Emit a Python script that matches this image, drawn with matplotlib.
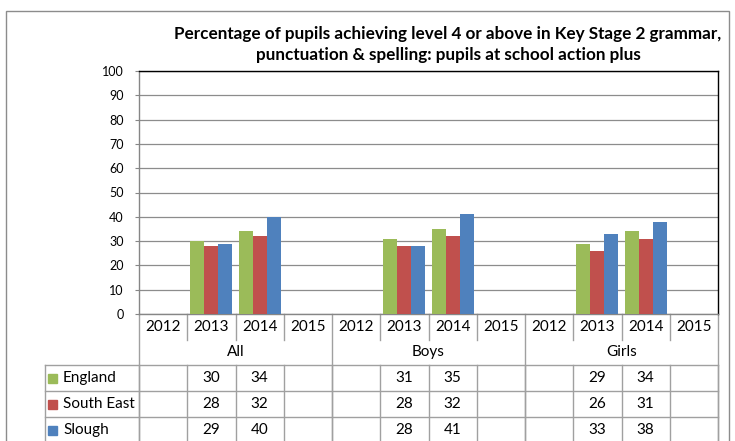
import numpy as np
import matplotlib
matplotlib.use("Agg")
import matplotlib.pyplot as plt
from matplotlib.transforms import blended_transform_factory
from matplotlib.patches import Rectangle

plt.rcParams['font.family'] = ['Lato', 'DejaVu Sans']

# data
groups = ['All', 'Boys', 'Girls']
years = ['2012', '2013', '2014', '2015']
series = ['England', 'South East', 'Slough']
england = [np.nan, 30, 34, np.nan, np.nan, 31, 35, np.nan, np.nan, 29, 34, np.nan]
south_east = [np.nan, 28, 32, np.nan, np.nan, 28, 32, np.nan, np.nan, 26, 31, np.nan]
slough = [np.nan, 29, 40, np.nan, np.nan, 28, 41, np.nan, np.nan, 33, 38, np.nan]
colors = ['#9BBB59', '#C0504D', '#4F81BD']
title = ('Percentage of pupils achieving level 4 or above in Key Stage 2 grammar,\n'
         'punctuation & spelling: pupils at school action plus')

W, H = 735, 441
fig = plt.figure(figsize=(W / 100, H / 100), dpi=100)

def fy(py):
    return 1 - py / H

# plot area in pixels
left, right, top, bottom = 139, 718, 71, 314
ax = fig.add_axes([left / W, fy(bottom), (right - left) / W, (bottom - top) / H])

# outer chart border
fig.add_artist(Rectangle((6 / W, fy(460)), (729 - 6) / W, (460 - 11) / H,
                         transform=fig.transFigure, fill=False,
                         edgecolor='#8c8c8c', linewidth=1))

values = [england, south_east, slough]
n = len(england)
x = np.arange(n)
bw = 0.29
for i, (vals, col) in enumerate(zip(values, colors)):
    ax.bar(x + (i - 1) * bw, vals, width=bw, color=col, zorder=3)

ax.set_xlim(-0.5, n - 0.5)
ax.set_ylim(0, 100)
ax.set_yticks(range(0, 101, 10))
ax.tick_params(axis='y', labelsize=9, length=3, color='#868686', pad=8)
ax.set_xticks([])
ax.yaxis.grid(True, color='#8c8c8c', linewidth=0.9, zorder=0)
for s in ['top', 'right']:
    ax.spines[s].set_color('black')
    ax.spines[s].set_linewidth(1)
for s in ['left', 'bottom']:
    ax.spines[s].set_color('#868686')
    ax.spines[s].set_linewidth(1)

# data table below the axis
tr = blended_transform_factory(ax.transData, fig.transFigure)
lc = '#a0a0a0'
fs = 11
x_leg = -0.5 - (left - 45) / ((right - left) / n)
x_end = n - 0.5

def hline(py, x0, x1):
    ax.plot([x0, x1], [fy(py), fy(py)], color=lc, lw=1, transform=tr, clip_on=False)

def vline(xx, py0, py1):
    ax.plot([xx, xx], [fy(py0), fy(py1)], color=lc, lw=1, transform=tr, clip_on=False)

# year row
for k in range(n + 1):
    xx = k - 0.5
    if k % 4 == 0:
        vline(xx, bottom, 450)
    else:
        vline(xx, bottom, 340)
for k in range(n):
    ax.text(k, fy(327), years[k % 4], transform=tr, ha='center', va='center', fontsize=fs)
for g, name in enumerate(groups):
    ax.text(g * 4 + 1.5, fy(352), name, transform=tr, ha='center', va='center', fontsize=fs)

# data rows
row_tops = [365, 391, 417]
for py in row_tops:
    hline(py, x_leg, x_end)
vline(x_leg, 365, 450)
for k in range(n + 1):
    vline(k - 0.5, 365, 450)

for r, (name, vals, col) in enumerate(zip(series, values, colors)):
    cy = row_tops[r] + 13
    fig.add_artist(Rectangle((48 / W, fy(cy + 4.5)), 9 / W, 9 / H,
                             transform=fig.transFigure, color=col))
    fig.text(63 / W, fy(cy), name, ha='left', va='center', fontsize=fs)
    for k, v in enumerate(vals):
        if not np.isnan(v):
            ax.text(k, fy(cy), f'{v:g}', transform=tr, ha='center', va='center', fontsize=fs)

fig.text(448 / W, fy(44.5), title, ha='center', va='center', fontsize=12.3,
         fontweight='bold', linespacing=1.45)

fig.savefig('out.png', dpi=100)
